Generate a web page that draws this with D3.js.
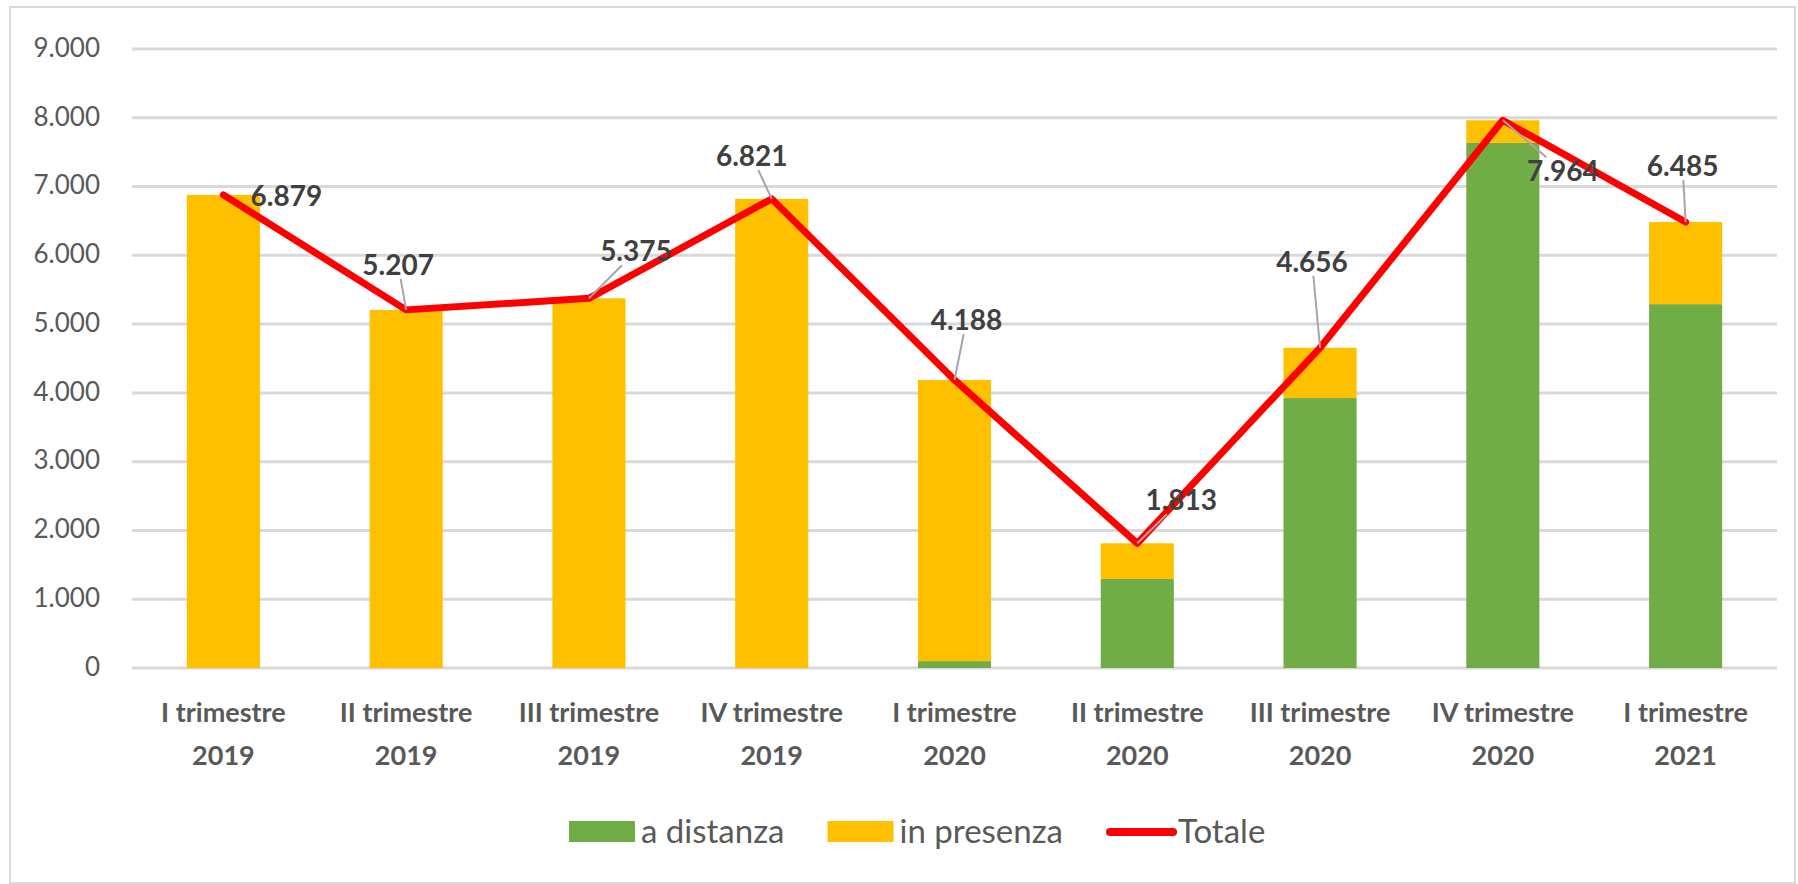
<!DOCTYPE html>
<html lang="it">
<head>
    <meta charset="UTF-8">
    <title>Trimestri 2019-2021</title>
    <script src="https://d3js.org/d3.v7.min.js"></script>
    <style>
        body { margin: 0; background: #fff; }
        svg { display: block; }
        text { font-family: Lato, "Open Sans", sans-serif; }
    </style>
</head>
<body>
    <svg width="1798" height="884"></svg>

    <script>
        // Data
        var quarters = ["I trimestre", "II trimestre", "III trimestre", "IV trimestre",
                        "I trimestre", "II trimestre", "III trimestre", "IV trimestre", "I trimestre"];
        var years = ["2019", "2019", "2019", "2019", "2020", "2020", "2020", "2020", "2021"];
        var aDistanza  = [0, 0, 0, 0, 100, 1295, 3925, 7635, 5290];
        var inPresenza = [6879, 5207, 5375, 6821, 4088, 518, 731, 329, 1195];
        var totale     = [6879, 5207, 5375, 6821, 4188, 1813, 4656, 7964, 6485];
        var yTicks = [0, 1000, 2000, 3000, 4000, 5000, 6000, 7000, 8000, 9000];

        // label placement relative to its point (layout, not data)
        var labelOffset = [[63, 1], [-8, -45], [47, -47], [-20, -43], [12, -60],
                           [44, -43], [-8, -86], [60, 51], [-3, -56]];

        var green = "#70AD47", yellow = "#FFC000", red = "#FF0000";

        var svg = d3.select("svg");

        // outer frame
        svg.append("rect")
            .attr("x", 10).attr("y", 7)
            .attr("width", 1785).attr("height", 876)
            .attr("fill", "none").attr("stroke", "#d9d9d9").attr("stroke-width", 2);

        var x = d3.scaleBand()
            .domain(d3.range(quarters.length))
            .range([132, 1777])
            .paddingInner(0.6)
            .paddingOuter(0.3);

        var y = d3.scaleLinear()
            .domain([0, 9000])
            .range([668, 49]);

        // gridlines
        svg.append("g")
            .selectAll("line")
            .data(yTicks)
            .enter().append("line")
            .attr("x1", 132).attr("x2", 1777)
            .attr("y1", function(d) { return y(d); })
            .attr("y2", function(d) { return y(d); })
            .attr("stroke", "#d9d9d9")
            .attr("stroke-width", 3);

        // y axis labels
        var yAxis = svg.append("g")
            .attr("transform", "translate(100,0)")
            .call(d3.axisLeft(y).tickValues(yTicks).tickSize(0).tickPadding(0)
                .tickFormat(function(d) { return d3.format(",")(d).replace(/,/g, "."); }));
        yAxis.select(".domain").remove();
        yAxis.selectAll("text")
            .attr("font-family", "Lato, sans-serif")
            .attr("font-size", 26)
            .attr("fill", "#595959")
            .attr("dy", "0.28em");

        // stacked bars
        var bars = svg.append("g");
        bars.selectAll(".dist")
            .data(aDistanza)
            .enter().append("rect")
            .attr("x", function(d, i) { return x(i); })
            .attr("width", x.bandwidth())
            .attr("y", function(d) { return y(d); })
            .attr("height", function(d) { return y(0) - y(d); })
            .attr("fill", green);

        bars.selectAll(".pres")
            .data(inPresenza)
            .enter().append("rect")
            .attr("x", function(d, i) { return x(i); })
            .attr("width", x.bandwidth())
            .attr("y", function(d, i) { return y(d + aDistanza[i]); })
            .attr("height", function(d, i) { return y(aDistanza[i]) - y(d + aDistanza[i]); })
            .attr("fill", yellow);

        // x labels
        var xl = svg.append("g");
        xl.selectAll(".q")
            .data(quarters)
            .enter().append("text")
            .attr("x", function(d, i) { return x(i) + x.bandwidth() / 2; })
            .attr("y", 722)
            .attr("text-anchor", "middle")
            .attr("font-size", 27)
            .attr("font-weight", "bold")
            .attr("fill", "#595959")
            .text(function(d) { return d; });
        xl.selectAll(".yr")
            .data(years)
            .enter().append("text")
            .attr("x", function(d, i) { return x(i) + x.bandwidth() / 2; })
            .attr("y", 765)
            .attr("text-anchor", "middle")
            .attr("font-size", 27)
            .attr("font-weight", "bold")
            .attr("fill", "#595959")
            .text(function(d) { return d; });

        // total line
        var cx = function(i) { return x(i) + x.bandwidth() / 2; };
        var line = d3.line()
            .x(function(d, i) { return cx(i); })
            .y(function(d) { return y(d); });

        svg.append("path")
            .datum(totale)
            .attr("d", line)
            .attr("fill", "none")
            .attr("stroke", red)
            .attr("stroke-width", 7)
            .attr("stroke-linejoin", "round")
            .attr("stroke-linecap", "round");

        // data labels with leader lines
        var fmt = function(d) { return d3.format(",")(d).replace(/,/g, "."); };
        var lab = svg.append("g");
        totale.forEach(function(d, i) {
            var px = cx(i), py = y(d);
            var lx = px + labelOffset[i][0], ly = py + labelOffset[i][1];
            var t = lab.append("text")
                .attr("x", lx).attr("y", ly)
                .attr("dy", "0.36em")
                .attr("text-anchor", "middle")
                .attr("font-size", 28)
                .attr("font-weight", "bold")
                .attr("fill", "#404040")
                .text(fmt(d));
            var bb = t.node().getBBox();
            var hw = bb.width / 2 + 4, hh = 14;
            var dx = lx - px, dy = ly - py;
            if (Math.abs(dy) < 10) return; // label sits beside the point, no leader
            // where the segment point->center enters the padded label box
            var tx = Math.abs(dx) > 0 ? 1 - hw / Math.abs(dx) : -1;
            var ty = 1 - hh / Math.abs(dy);
            var s = Math.max(tx, ty);
            if (s > 0.15) {
                lab.insert("line", "text")
                    .attr("x1", px).attr("y1", py)
                    .attr("x2", px + dx * s).attr("y2", py + dy * s)
                    .attr("stroke", "#a6a6a6")
                    .attr("stroke-width", 2);
            }
        });

        // legend
        var legend = svg.append("g").attr("transform", "translate(569,0)");
        var items = [
            {name: "a distanza", color: green, type: "rect"},
            {name: "in presenza", color: yellow, type: "rect"},
            {name: "Totale", color: red, type: "line"}
        ];
        var lx = 0;
        items.forEach(function(it) {
            if (it.type === "rect") {
                legend.append("rect")
                    .attr("x", lx).attr("y", 821)
                    .attr("width", 66).attr("height", 21)
                    .attr("fill", it.color);
            } else {
                legend.append("line")
                    .attr("x1", lx + 4).attr("x2", lx + 67)
                    .attr("y1", 832).attr("y2", 832)
                    .attr("stroke", it.color)
                    .attr("stroke-width", 8)
                    .attr("stroke-linecap", "round");
            }
            var t = legend.append("text")
                .attr("x", lx + 72).attr("y", 843)
                .attr("font-size", 33)
                .attr("fill", "#595959")
                .text(it.name);
            lx += 72 + t.node().getComputedTextLength() + 43;
        });
    </script>
</body>
</html>
